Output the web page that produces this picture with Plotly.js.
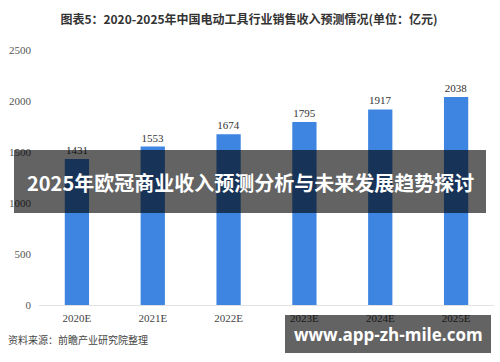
<!DOCTYPE html>
<html><head><meta charset="utf-8">
<script src="https://cdn.plot.ly/plotly-3.0.1.min.js"></script>
<style>html,body{margin:0;padding:0;background:#fff}#chart{width:500px;height:362px}</style>
</head><body><div id="chart"></div>
<script>
const categories = ["2020E","2021E","2022E","2023E","2024E","2025E"];
const revenue = [1431,1553,1674,1795,1917,2038];
const yTicks = [0,500,1000,1500,2000,2500];

const serif = "Liberation Serif, DejaVu Serif, serif";
const cjk = "Noto Sans CJK SC, sans-serif";

const data = [{
  type: "bar",
  x: categories,
  y: revenue,
  marker: {color: "#3d85e0"},
  text: revenue.map(String),
  textposition: "outside",
  textfont: {family: serif, size: 11, color: "#333"},
  cliponaxis: false,
  hoverinfo: "skip"
}];

const layout = {
  width: 500, height: 362,
  margin: {l: 39, r: 6, t: 50, b: 57},
  paper_bgcolor: "#fff", plot_bgcolor: "#fff",
  bargap: 0.68,
  showlegend: false,
  title: {text: "<b>图表5：2020-2025年中国电动工具行业销售收入预测情况(单位：亿元)</b>",
    font: {family: cjk, size: 12, color: "#333"}, x: 0.498, xanchor: "center", y: 0.945, yanchor: "middle"},
  xaxis: {showgrid: false, zeroline: false, showline: true, linecolor: "#e2e2e2", linewidth: 1,
    ticks: "", ticklabelstandoff: 3, tickfont: {family: serif, size: 11, color: "#444"}},
  yaxis: {range: [0, 2500], tickvals: yTicks, showgrid: false, zeroline: false, showline: false,
    ticks: "", ticklabelstandoff: 7, tickfont: {family: serif, size: 11, color: "#555"}},
  shapes: [
    {type: "rect", xref: "paper", yref: "paper", layer: "above", line: {width: 0},
     x0: (14-39)/455, x1: (486-39)/455, y0: (305-213)/255, y1: (305-150)/255, fillcolor: "rgba(0,0,0,0.61)"},
    {type: "rect", xref: "paper", yref: "paper", layer: "above", line: {width: 0},
     x0: (285-39)/455, x1: (491-39)/455, y0: (305-353)/255, y1: (305-315)/255, fillcolor: "rgba(0,0,0,0.61)"}
  ],
  annotations: [
    {xref: "paper", yref: "paper", x: (6-39)/455, y: (305-339)/255, xanchor: "left", yanchor: "middle",
     showarrow: false, text: "资料来源：前瞻产业研究院整理", font: {family: cjk, size: 10, color: "#444"}},
    {xref: "paper", yref: "paper", x: (250-39)/455, y: (305-183)/255, xanchor: "center", yanchor: "middle",
     showarrow: false, text: "<b>2025年欧冠商业收入预测分析与未来发展趋势探讨</b>", font: {family: cjk, size: 20, color: "#fff"}},
    {xref: "paper", yref: "paper", x: (388-39)/455, y: (305-334)/255, xanchor: "center", yanchor: "middle",
     showarrow: false, text: "<b>www.app-zh-mile.com</b>", font: {family: "Open Sans, DejaVu Sans, sans-serif", size: 17, color: "#fff"}}
  ]
};

Plotly.newPlot("chart", data, layout, {displayModeBar: false, staticPlot: true});
</script></body></html>
